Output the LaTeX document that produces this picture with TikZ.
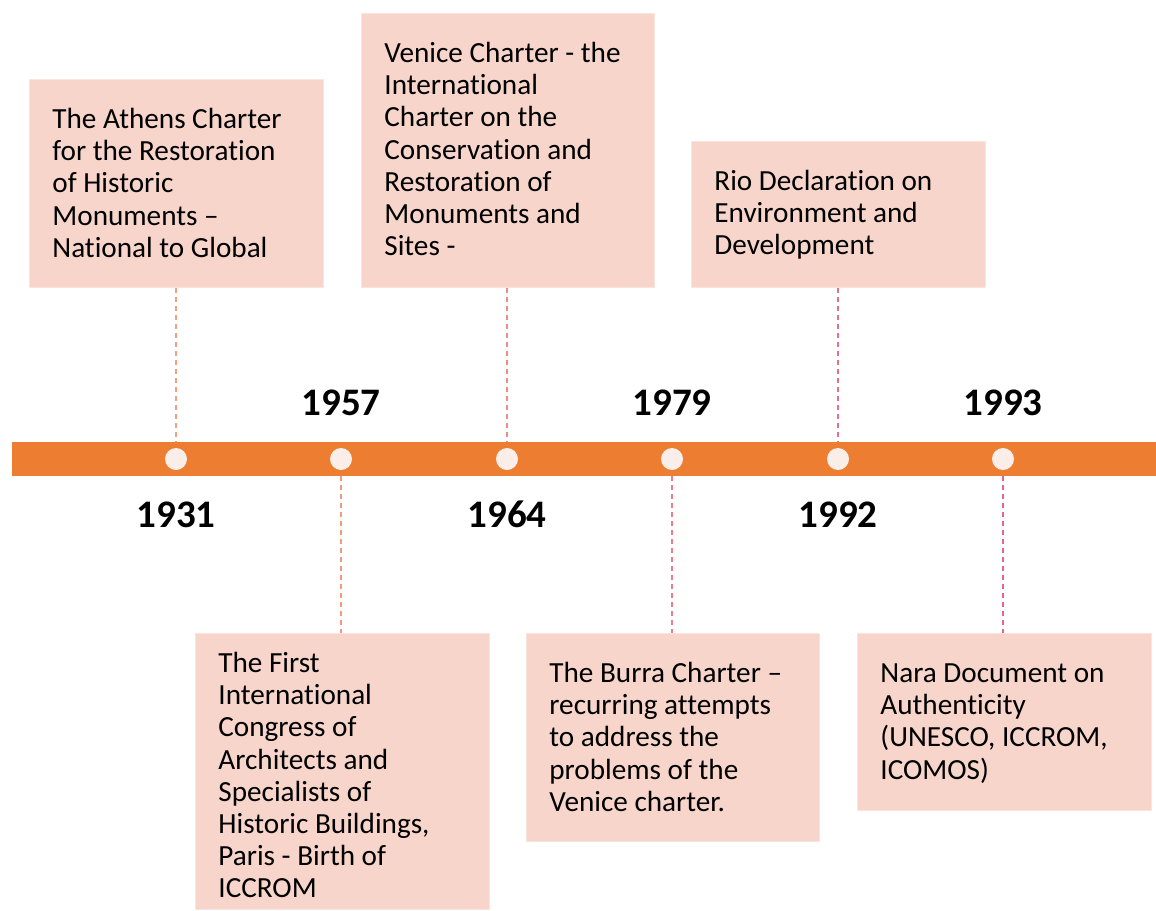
\documentclass[tikz,border=0pt]{standalone}
\usepackage{fontspec}
\setmainfont{Carlito}[RawFeature={-liga,-clig,-dlig}]
\definecolor{barorange}{HTML}{ED7D31}
\definecolor{boxfill}{HTML}{F7D5CB}
\definecolor{boxedge}{HTML}{FBE4DD}
\definecolor{dotfill}{HTML}{FBEEE8}
\definecolor{da}{HTML}{F3A07C}
\definecolor{db}{HTML}{F29A80}
\definecolor{dc}{HTML}{EF8C88}
\definecolor{dd}{HTML}{EC7C8A}
\definecolor{de}{HTML}{EA6E8E}
\definecolor{df}{HTML}{E8628F}
\begin{document}
\begin{tikzpicture}[x=0.5pt,y=-0.5pt,
  evbox/.style={draw=boxedge, line width=0.6pt, fill=boxfill, anchor=north west, inner sep=0pt, minimum width=147pt},
  evtext/.style={anchor=north west, inner sep=0pt, align=left, font=\fontsize{14.6}{16.1}\selectfont, text=black, xshift=11.5pt, yshift=-12.5pt},
  year/.style={anchor=base, inner sep=0pt, font=\fontsize{19.5}{22}\selectfont\bfseries},
  dot/.style={circle, fill=dotfill, inner sep=0pt, minimum size=11pt},
  tick/.style={line width=0.75pt, dash pattern=on 2.5pt off 2pt}
]
\useasboundingbox (0,0) rectangle (1156,910);
\fill[white] (0,0) rectangle (1156,910);

% timeline bar
\node[fill=barorange, inner sep=0pt, anchor=north west, minimum width=572pt, minimum height=17pt] (bar) at (12,442) {};

% dots
\node[dot] (p1) at (176,459) {};
\node[dot] (p2) at (341,459) {};
\node[dot] (p3) at (507,459) {};
\node[dot] (p4) at (672,459) {};
\node[dot] (p5) at (838,459) {};
\node[dot] (p6) at (1003,459) {};

% bar edge coordinates
\coordinate (t1) at (176,442);
\coordinate (b2) at (341,476);
\coordinate (t3) at (507,442);
\coordinate (b4) at (672,476);
\coordinate (t5) at (838,442);
\coordinate (b6) at (1003,476);

% years
\node[year] (y1) at (176,527) {1931};
\node[year] (y2) at (341,415) {1957};
\node[year] (y3) at (507,527) {1964};
\node[year] (y4) at (672,415) {1979};
\node[year] (y5) at (838,527) {1992};
\node[year] (y6) at (1003,415) {1993};

% boxes
\node[evbox, minimum height=104pt] (bA) at (29,79) {};
\node[evbox, minimum width=146.5pt, minimum height=137pt] (bV) at (361,13) {};
\node[evbox, minimum height=73pt] (bR) at (691,141) {};
\node[evbox, minimum height=138pt] (bC) at (195,633) {};
\node[evbox, minimum width=146.5pt, minimum height=104pt] (bB) at (526,633) {};
\node[evbox, minimum height=88.5pt] (bN) at (857,633) {};

% texts
\node[evtext] (tA) at (bA.north west) {\rule{0pt}{12pt}The Athens Charter\\for the Restoration\\of Historic\\Monuments –\\National to Global};
\node[evtext] (tV) at (bV.north west) {\rule{0pt}{12pt}Venice Charter - the\\International\\Charter on the\\Conservation and\\Restoration of\\Monuments and\\Sites -};
\node[evtext] (tR) at (bR.north west) {\rule{0pt}{12pt}Rio Declaration on\\Environment and\\Development};
\node[evtext, yshift=5pt] (tC) at (bC.north west) {\rule{0pt}{12pt}The First\\International\\Congress of\\Architects and\\Specialists of\\Historic Buildings,\\Paris - Birth of\\ICCROM};
\node[evtext] (tB) at (bB.north west) {\rule{0pt}{12pt}The Burra Charter –\\recurring attempts\\to address the\\problems of the\\Venice charter.};
\node[evtext] (tN) at (bN.north west) {\rule{0pt}{12pt}Nara Document on\\Authenticity\\(UNESCO, ICCROM,\\ICOMOS)};

% dashed connectors
\draw[tick, da] (bA.south -| t1) -- (t1);
\draw[tick, db] (b2) -- (bC.north -| b2);
\draw[tick, dc] (bV.south -| t3) -- (t3);
\draw[tick, dd] (b4) -- (bB.north -| b4);
\draw[tick, de] (bR.south -| t5) -- (t5);
\draw[tick, df] (b6) -- (bN.north -| b6);
\end{tikzpicture}
\end{document}
